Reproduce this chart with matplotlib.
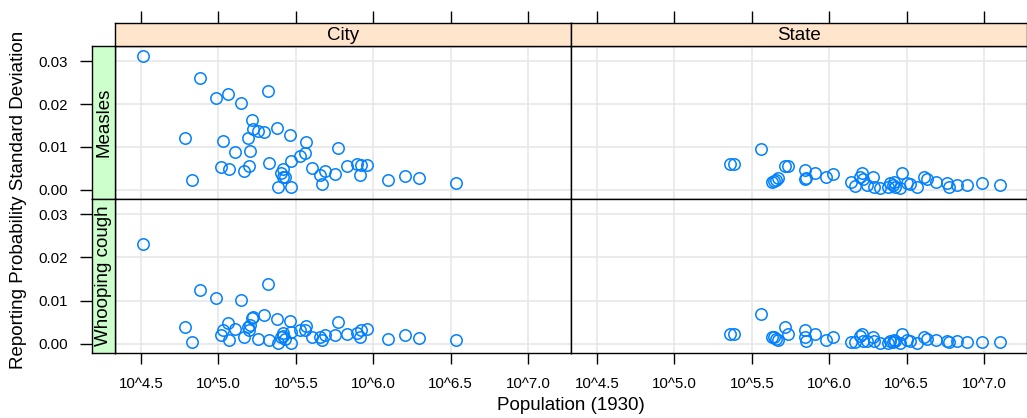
import numpy as np
import matplotlib
matplotlib.use('Agg')
import matplotlib.pyplot as plt

plt.rcParams['font.family'] = ['Liberation Sans', 'DejaVu Sans']

# log10 population (1930) and reporting probability sd
city_logpop = [4.511, 4.883, 4.981, 5.063, 5.143, 5.323, 5.214, 5.223, 5.258, 5.294,
               5.377, 5.463, 4.781, 5.031, 5.188, 5.569, 5.106, 5.206, 5.560, 5.524,
               5.468, 5.329, 5.018, 5.067, 5.167, 5.195, 5.416, 5.602, 4.831, 5.414,
               5.429, 5.383, 5.469, 5.658, 5.690, 5.669, 5.771, 5.755, 5.833, 5.896,
               5.920, 5.961, 5.918, 6.097, 6.206, 6.297, 6.537, 5.405]
city_measles = [0.0312, 0.0261, 0.0214, 0.0224, 0.0202, 0.0230, 0.0162, 0.0143, 0.0137, 0.0134,
                0.0144, 0.0128, 0.0120, 0.0114, 0.0122, 0.0112, 0.0089, 0.0091, 0.0087, 0.0079,
                0.0067, 0.0062, 0.0053, 0.0048, 0.0045, 0.0055, 0.0049, 0.0052, 0.0023, 0.0030,
                0.0031, 0.0008, 0.0008, 0.0034, 0.0043, 0.0013, 0.0097, 0.0038, 0.0056, 0.0061,
                0.0057, 0.0057, 0.0036, 0.0023, 0.0033, 0.0027, 0.0017, 0.0040]
city_whooping = [0.0230, 0.0125, 0.0107, 0.0048, 0.0101, 0.0139, 0.0061, 0.0063, 0.0012, 0.0066,
                 0.0057, 0.0053, 0.0040, 0.0032, 0.0040, 0.0042, 0.0034, 0.0043, 0.0032, 0.0032,
                 0.0028, 0.0010, 0.0020, 0.0010, 0.0015, 0.0032, 0.0026, 0.0015, 0.0005, 0.0019,
                 0.0011, 0.0002, 0.0003, 0.0015, 0.0020, 0.0009, 0.0050, 0.0021, 0.0024, 0.0026,
                 0.0032, 0.0034, 0.0017, 0.0011, 0.0020, 0.0013, 0.0009, 0.0015]

state_logpop = [5.362, 5.383, 5.560, 5.717, 5.734, 5.631, 5.646, 5.659, 5.670, 5.842,
                5.842, 5.853, 5.906, 5.982, 6.022, 6.141, 6.169, 6.202, 6.213, 6.217,
                6.245, 6.281, 6.287, 6.331, 6.381, 6.395, 6.410, 6.417, 6.428, 6.460,
                6.471, 6.503, 6.520, 6.568, 6.610, 6.632, 6.690, 6.762, 6.772, 6.826,
                6.890, 6.988, 7.106]
state_measles = [0.0060, 0.0061, 0.0095, 0.0056, 0.0056, 0.0018, 0.0021, 0.0023, 0.0027, 0.0047,
                 0.0025, 0.0027, 0.0039, 0.0031, 0.0037, 0.0018, 0.0009, 0.0031, 0.0039, 0.0025,
                 0.0012, 0.0031, 0.0008, 0.0004, 0.0008, 0.0016, 0.0012, 0.0019, 0.0008, 0.0004,
                 0.0040, 0.0016, 0.0013, 0.0008, 0.0030, 0.0025, 0.0018, 0.0016, 0.0006, 0.0012,
                 0.0012, 0.0016, 0.0012]
state_whooping = [0.0023, 0.0024, 0.0070, 0.0038, 0.0023, 0.0015, 0.0016, 0.0012, 0.0009, 0.0032,
                  0.0015, 0.0007, 0.0024, 0.0009, 0.0016, 0.0005, 0.0005, 0.0019, 0.0023, 0.0007,
                  0.0007, 0.0015, 0.0007, 0.0003, 0.0003, 0.0007, 0.0005, 0.0009, 0.0007, 0.0003,
                  0.0023, 0.0010, 0.0007, 0.0003, 0.0015, 0.0012, 0.0009, 0.0007, 0.0005, 0.0007,
                  0.0005, 0.0005, 0.0005]

columns = ['City', 'State']
rows = ['Measles', 'Whooping cough']
panel_data = {
    ('Measles', 'City'): (city_logpop, city_measles),
    ('Measles', 'State'): (state_logpop, state_measles),
    ('Whooping cough', 'City'): (city_logpop, city_whooping),
    ('Whooping cough', 'State'): (state_logpop, state_whooping),
}

xticks = [4.5, 5.0, 5.5, 6.0, 6.5, 7.0]
xticklabels = ['10^4.5', '10^5.0', '10^5.5', '10^6.0', '10^6.5', '10^7.0']
yticks = [0.0, 0.01, 0.02, 0.03]
yticklabels = ['0.00', '0.01', '0.02', '0.03']
xlim = (4.331, 7.279)
ylim = (-0.0021, 0.0335)

W, H = 1027, 418
fig = plt.figure(figsize=(W / 100, H / 100), dpi=100)

def fx(px):
    return px / W

def fy(py):
    return 1 - py / H

col_px = [(115, 571), (571, 1027)]
row_px = [(46, 199), (199, 353)]
strip_top = (23, 46)
strip_left = (92, 115)

tick_fs = 10.8
lab_fs = 13.5
lw = 1.0

panels = {}
for i, r in enumerate(rows):
    for j, c in enumerate(columns):
        x0, x1 = col_px[j]
        y0, y1 = row_px[i]
        ax = fig.add_axes([fx(x0), fy(y1), fx(x1 - x0), (y1 - y0) / H])
        xs, ys = panel_data[(r, c)]
        ax.set_xlim(xlim)
        ax.set_ylim(ylim)
        for t in xticks:
            ax.axvline(t, color='#e6e6e6', lw=1.1, zorder=0)
        for t in yticks:
            ax.axhline(t, color='#e6e6e6', lw=1.1, zorder=0)
        ax.plot(xs, ys, 'o', mfc='none', mec='#0080ff', ms=8.2, mew=1.1, zorder=3, clip_on=False)
        ax.set_xticks(xticks)
        ax.set_yticks(yticks)
        ax.tick_params(length=0, labelleft=False, labelbottom=False)
        for s in ax.spines.values():
            s.set_linewidth(lw)
        if i == 1:
            ax.tick_params(axis='x', bottom=True, length=8, width=lw, direction='out',
                           labelbottom=True, labelsize=tick_fs, pad=9)
            ax.set_xticklabels(xticklabels)
        panels[(i, j)] = ax

# top strips
for j, c in enumerate(columns):
    x0, x1 = col_px[j]
    sax = fig.add_axes([fx(x0), fy(strip_top[1]), fx(x1 - x0), (strip_top[1] - strip_top[0]) / H],
                       sharex=panels[(0, j)])
    sax.set_facecolor('#ffe5cc')
    sax.set_yticks([])
    sax.tick_params(axis='x', top=True, bottom=False, labeltop=False, labelbottom=False,
                    length=8.5, width=lw, direction='out')
    for s in sax.spines.values():
        s.set_linewidth(lw)
    sax.text(0.5, 0.45, c, transform=sax.transAxes, ha='center', va='center', fontsize=lab_fs)

# left strips
for i, r in enumerate(rows):
    y0, y1 = row_px[i]
    sax = fig.add_axes([fx(strip_left[0]), fy(y1), fx(strip_left[1] - strip_left[0]), (y1 - y0) / H],
                       sharey=panels[(i, 0)])
    sax.set_facecolor('#ccffcc')
    sax.set_xticks([])
    sax.set_yticks(yticks)
    sax.set_yticklabels(yticklabels)
    sax.tick_params(axis='y', left=True, length=8.5, width=lw, direction='out',
                    labelsize=tick_fs, pad=9)
    for s in sax.spines.values():
        s.set_linewidth(lw)
    sax.text(0.5, 0.5, r, transform=sax.transAxes, ha='center', va='center',
             rotation=90, fontsize=lab_fs)

fig.text(fx(19), fy(200), 'Reporting Probability Standard Deviation', rotation=90,
         ha='center', va='center', fontsize=lab_fs)
fig.text(fx(571), fy(406), 'Population (1930)', ha='center', va='center', fontsize=lab_fs)

fig.savefig('out.png', dpi=100)
